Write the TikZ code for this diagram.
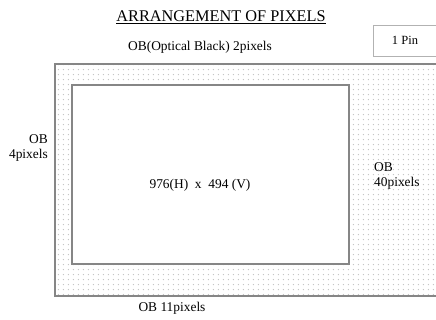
\documentclass[tikz,border=0pt]{standalone}
\usepackage{fontspec}
\setmainfont{Liberation Serif}
\usepackage{tikz}
\usetikzlibrary{patterns.meta}
\tikzstyle{lbl} = [inner sep=0,font=\fontsize{13.4}{15.5}\selectfont]
\tikzstyle{frame} = [draw=gray!95,line width=2pt]
\tikzstyle{area} = [frame,fill=white,line width=1.6pt]

\begin{document}
\begin{tikzpicture}[x=1pt,y=-1pt,ob/.style={pattern={Dots[distance=5.4pt,radius=0.8pt]},pattern color=gray!45}]
    \useasboundingbox (0,0) rectangle (436,320);

    % optical black ring
    \fill[ob] (55,64) rectangle (436,296);
    \draw[frame] (436,64) -- (55,64) -- (55,296) -- (436,296);
    \draw[area] (72,85) rectangle (349,264);

    % pin marker
    \draw[draw=gray!60,line width=0.6pt] (436,25) -- (373,25) -- (373,56) -- (436,56);

    \node[inner sep=0,font=\fontsize{16.3}{18}\selectfont] (title) at (221,17) {\underline{ARRANGEMENT OF PIXELS}};
    \node[lbl] (top) at (200,47) {OB(Optical Black) 2pixels};
    \node[lbl,font=\fontsize{12.5}{14}\selectfont] (pin) at (405,40) {1 Pin};
    \node[lbl,align=right,anchor=east] (left) at (48,148) {OB\\4pixels};
    \node[lbl] (act) at (200,185) {976(H)~~x~~494 (V)};
    \node[lbl,align=left,anchor=west] (right) at (374,176) {OB\\40pixels};
    \node[lbl] (bot) at (172,308) {OB 11pixels};
\end{tikzpicture}
\end{document}
